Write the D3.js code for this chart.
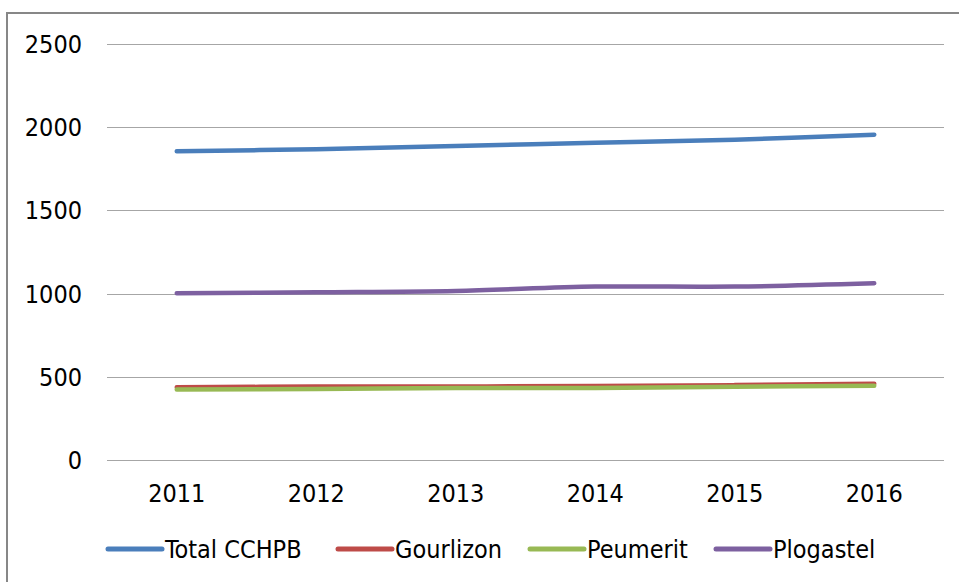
<!DOCTYPE html>
<html>
<head>
<meta charset="utf-8">
<script src="https://cdn.jsdelivr.net/npm/d3@7"></script>
<style>
  body { margin: 0; background: #fff; }
  svg text { font-family: "DejaVu Sans Condensed", "Liberation Sans Narrow", sans-serif; fill: #000; }
</style>
</head>
<body>
<div class="board"></div>
<script>
var years = ["2011", "2012", "2013", "2014", "2015", "2016"];
var yTicks = [0, 500, 1000, 1500, 2000, 2500];
var seriesNames = ["Total CCHPB", "Gourlizon", "Peumerit", "Plogastel"];
var totalCchpb = [1855, 1868, 1887, 1907, 1925, 1955];
var gourlizon = [437, 441, 442, 444, 450, 458];
var peumerit = [424, 427, 432, 433, 440, 446];
var plogastel = [1002, 1008, 1016, 1042, 1042, 1062];
var colors = ["#4a7ebb", "#be4b48", "#98b954", "#7d60a0"];

var series = [totalCchpb, gourlizon, peumerit, plogastel];

var W = 959, H = 582;

var svg = d3.select('.board').append('svg')
  .attr('width', W)
  .attr('height', H);

// chart frame
svg.append('rect')
  .attr('x', 7)
  .attr('y', 13)
  .attr('width', W + 10)
  .attr('height', H + 10)
  .attr('fill', '#fff')
  .attr('stroke', '#878787')
  .attr('stroke-width', 2);

var x = d3.scaleBand().domain(years).range([107, 944]).padding(0);
var y = d3.scaleLinear().domain([0, 2500]).range([460, 44]);

// gridlines
svg.selectAll('.grid')
  .data(yTicks).enter().append('line')
  .attr('class', 'grid')
  .attr('x1', 107)
  .attr('x2', 944)
  .attr('y1', function(d){ return Math.round(y(d)) + 0.5 })
  .attr('y2', function(d){ return Math.round(y(d)) + 0.5 })
  .attr('stroke', '#a6a6a6')
  .attr('stroke-width', 1.2);

// y axis labels
var yAxis = svg.append('g')
  .attr('transform', 'translate(107,0)')
  .call(d3.axisLeft(y).tickValues(yTicks).tickFormat(d3.format('d')).tickSize(0).tickPadding(25));
yAxis.select('.domain').remove();
yAxis.selectAll('text').attr('font-size', '25px').attr('dy', '0.34em')
  .style('font-family', null);

// x axis labels
var xAxis = svg.append('g')
  .attr('transform', 'translate(0,460)')
  .call(d3.axisBottom(x).tickSize(0).tickPadding(24));
xAxis.select('.domain').remove();
xAxis.selectAll('text').attr('font-size', '25px')
  .style('font-family', null);

var line = d3.line()
  .x(function(d, i){ return x(years[i]) + x.bandwidth() / 2 })
  .y(function(d){ return y(d) })
  .curve(d3.curveCatmullRom.alpha(0.5));

svg.selectAll('.series')
  .data(series).enter().append('path')
  .attr('class', 'series')
  .attr('d', function(d){ return line(d) })
  .attr('fill', 'none')
  .attr('stroke', function(d, i){ return colors[i] })
  .attr('stroke-width', 4.5)
  .attr('stroke-linecap', 'round')
  .attr('stroke-linejoin', 'round');

// legend
var legendX = [108, 338, 530, 716];
var legend = svg.selectAll('.legend')
  .data(seriesNames).enter().append('g')
  .attr('class', 'legend')
  .attr('transform', function(d, i){ return 'translate(' + legendX[i] + ',549)' });

legend.append('line')
  .attr('x1', 0)
  .attr('x2', 54)
  .attr('stroke', function(d, i){ return colors[i] })
  .attr('stroke-width', 5)
  .attr('stroke-linecap', 'round');

legend.append('text')
  .attr('x', 57)
  .attr('dy', '0.35em')
  .attr('font-size', '25px')
  .text(function(d){ return d });
</script>
</body>
</html>
